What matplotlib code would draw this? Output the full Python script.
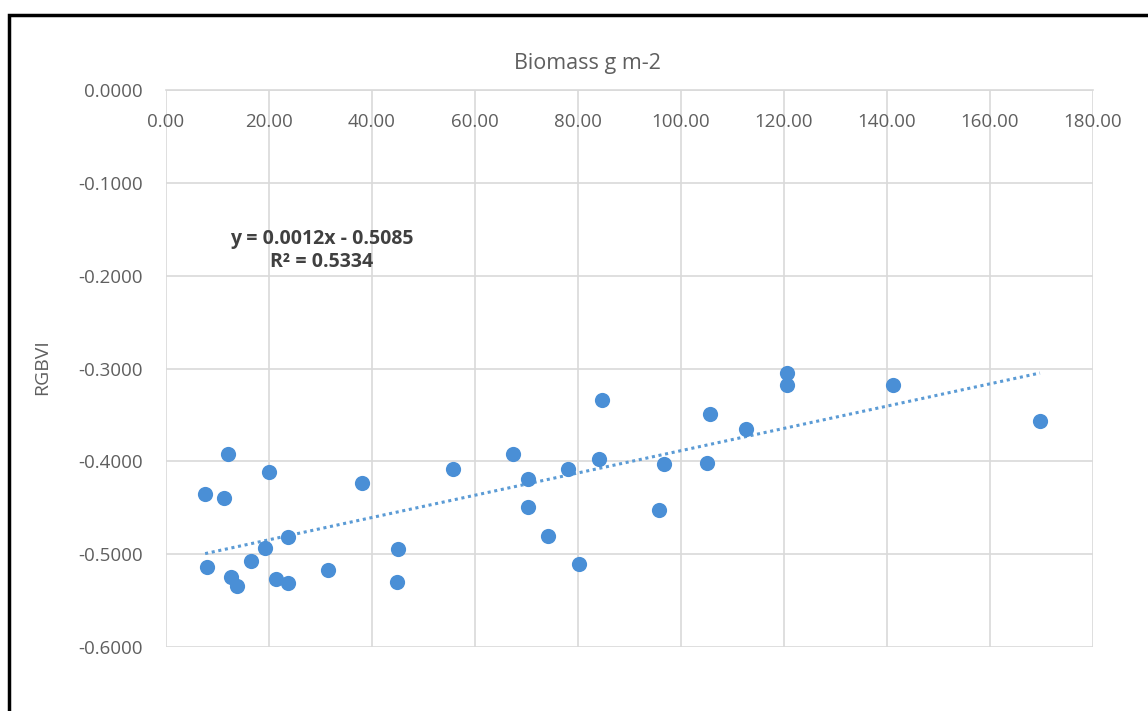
import numpy as np
import matplotlib.pyplot as plt
from matplotlib.patches import Rectangle

# biomass (g m-2) and RGBVI
biomass = [12.1, 20.0, 7.6, 11.3, 23.7, 19.3, 16.6, 7.9, 12.7, 13.8, 21.3, 23.7,
           31.5, 38.0, 55.8, 45.1, 44.8, 67.4, 70.2, 78.0, 70.2, 74.2, 80.1, 84.6,
           84.1, 96.7, 95.7, 105.7, 105.1, 112.6, 120.6, 120.6, 141.1, 169.7]
rgbvi = [-0.3917, -0.4115, -0.4348, -0.4390, -0.4820, -0.4935, -0.5070, -0.5136,
         -0.5250, -0.5348, -0.5270, -0.5315, -0.5168, -0.4230, -0.4080, -0.4946,
         -0.5305, -0.3925, -0.4190, -0.4086, -0.4490, -0.4800, -0.5110, -0.3340,
         -0.3980, -0.4025, -0.4520, -0.3495, -0.4014, -0.3650, -0.3047, -0.3180,
         -0.3180, -0.3570]
SLOPE = 0.0012
INTERCEPT = -0.5085
R2 = 0.5334

x_ticks = [0, 20, 40, 60, 80, 100, 120, 140, 160, 180]
y_ticks = [-0.6, -0.5, -0.4, -0.3, -0.2, -0.1, 0.0]
y_labels = ['-0.6000', '-0.5000', '-0.4000', '-0.3000', '-0.2000', '-0.1000', '0.0000']

GRAY_TXT = '#5f5f5f'
GRID = '#d9d9d9'
BLUE = '#4a8fd6'

plt.rcParams['font.family'] = ['Open Sans', 'DejaVu Sans']

fig = plt.figure(figsize=(11.48, 7.11), dpi=100)
ax = fig.add_axes([166 / 1148, 1 - 647 / 711, 927 / 1148, 557 / 711])

ax.scatter(biomass, rgbvi, s=120, color=BLUE, zorder=3, linewidths=0)

xs = np.array([min(biomass), max(biomass)])
ax.plot(xs, SLOPE * xs + INTERCEPT, color='#5b9bd5', linestyle=(0, (1, 1.2)),
        linewidth=2.2, zorder=2)

ax.set_xlim(0, 180)
ax.set_ylim(-0.6, 0)
ax.set_xticks(x_ticks)
ax.set_yticks(y_ticks)
ax.set_xticklabels([f'{v:.2f}' for v in x_ticks])
ax.set_yticklabels(y_labels)
ax.xaxis.set_ticks_position('top')
ax.tick_params(axis='x', length=0, pad=-23, labelsize=13.5, labelcolor=GRAY_TXT)
ax.tick_params(axis='y', length=0, pad=17, labelsize=13.5, labelcolor=GRAY_TXT)
for t in ax.get_xticklabels():
    t.set_va('center')

ax.grid(True, color=GRID, linewidth=1.2)
ax.set_axisbelow(True)
for side in ['left', 'right', 'bottom']:
    ax.spines[side].set_visible(False)
ax.spines['top'].set_color(GRID)
ax.spines['top'].set_linewidth(1.2)

fig.text(587 / 1148, 1 - 63 / 711, 'Biomass g m-2', ha='center', va='center',
         fontsize=15.5, color=GRAY_TXT)
fig.text(42 / 1148, 1 - 367 / 711, 'RGBVI', rotation=90, ha='center', va='center',
         fontsize=14, color=GRAY_TXT)

ax.text(0.168, 0.712, f'y = {SLOPE:.4f}x - {abs(INTERCEPT):.4f}\nR² = {R2:.4f}',
        transform=ax.transAxes, ha='center', va='center', fontsize=14,
        fontweight='bold', color='#404040', linespacing=1.25)

fig.patches.append(Rectangle((9 / 1148, -0.1), 1.2, 1 - 15 / 711 + 0.1,
                             transform=fig.transFigure, fill=False,
                             edgecolor='black', linewidth=2.5))

fig.savefig('out.png', dpi=100)
